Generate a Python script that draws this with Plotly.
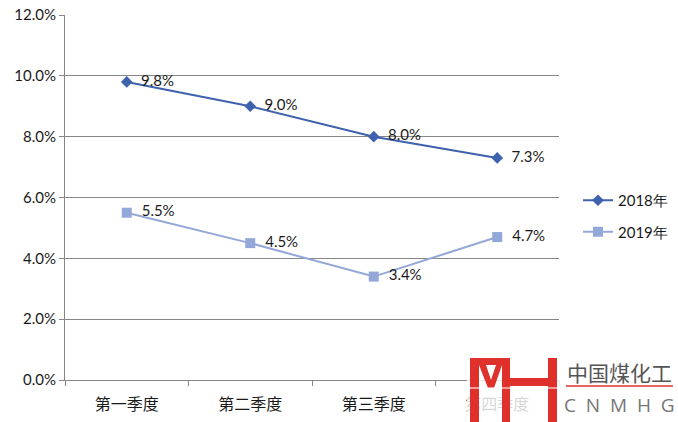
import plotly.graph_objects as go

categories = ["第一季度", "第二季度", "第三季度", "第四季度"]
series_2018 = [9.8, 9.0, 8.0, 7.3]
series_2019 = [5.5, 4.5, 3.4, 4.7]
series_names = ["2018年", "2019年"]
y_ticks = [0, 2, 4, 6, 8, 10, 12]
y_tick_labels = ["0.0%", "2.0%", "4.0%", "6.0%", "8.0%", "10.0%", "12.0%"]

W, H = 678, 422
L, R, T, B = 65, 119, 15, 42
PW, PH = W - L - R, H - T - B

def px(x):
    return (x - L) / PW

def py(y):
    return (H - B - y) / PH

num_font = "Lato, 'Open Sans', sans-serif"
cjk_font = "'Noto Sans CJK SC', sans-serif"
pad = "\u00a0\u00a0"

fig = go.Figure()
fig.add_trace(go.Scatter(
    x=categories, y=series_2018, name=series_names[0], legendgroup="g1",
    mode="lines+markers+text",
    line=dict(color="#3E62AD", width=2),
    marker=dict(symbol="diamond", size=9, color="#3E62AD"),
    text=[f"{pad}{v:.1f}%" for v in series_2018], textposition="middle right",
    textfont=dict(family=num_font, size=15, color="#1a1a1a"),
))
fig.add_trace(go.Scatter(
    x=categories, y=series_2019, name=series_names[1], legendgroup="g2",
    mode="lines+markers+text",
    line=dict(color="#93A7D8", width=2),
    marker=dict(symbol="square", size=10, color="#93A7D8"),
    text=[f"{pad}{v:.1f}%" for v in series_2019], textposition="middle right",
    textfont=dict(family=num_font, size=15, color="#1a1a1a"),
))

shapes = []
shapes.append(dict(type="rect", xref="paper", yref="paper",
                   x0=px(467), x1=px(678), y0=py(354), y1=py(422),
                   fillcolor="rgba(255,255,255,0.82)", line=dict(width=0), layer="above"))
red = "#E0302B"
def rect(x0, y0, x1, y1):
    shapes.append(dict(type="rect", xref="paper", yref="paper",
                       x0=px(x0), x1=px(x1), y0=py(y0), y1=py(y1),
                       fillcolor=red, line=dict(width=0), layer="above"))
rect(470, 358, 479, 422)
rect(470, 358, 510, 365)
rect(502, 358, 510, 422)
rect(510, 378, 548, 386)
rect(548, 358, 557, 422)
pts = [(479, 365), (486, 365), (491, 380), (496, 365), (502, 365), (494, 388), (488, 388)]
path = "M " + " L ".join(f"{px(a)},{py(b)}" for a, b in pts) + " Z"
shapes.append(dict(type="path", xref="paper", yref="paper", path=path,
                   fillcolor=red, line=dict(width=0), layer="above"))
shapes.append(dict(type="line", xref="paper", yref="paper",
                   x0=px(468), x1=px(560), y0=py(388), y1=py(388),
                   line=dict(color="rgba(255,255,255,0.7)", width=1.5), layer="above"))
shapes.append(dict(type="line", xref="paper", yref="paper",
                   x0=px(566), x1=px(673), y0=py(386), y1=py(386),
                   line=dict(color=red, width=1.5), layer="above"))

annotations = [
    dict(text="中国煤化工", xref="paper", yref="paper", x=px(619), y=py(372),
         showarrow=False, font=dict(family=cjk_font, size=21, color="#555555"),
         xanchor="center", yanchor="middle"),
    dict(text="C  N  M  H  G", xref="paper", yref="paper", x=px(619), y=py(405),
         showarrow=False, font=dict(family="'Open Sans', sans-serif", size=19, color="#777777"),
         xanchor="center", yanchor="middle"),
]

fig.update_layout(
    width=W, height=H,
    margin=dict(l=L, r=R, t=T, b=B, autoexpand=False),
    paper_bgcolor="white", plot_bgcolor="white",
    showlegend=True,
    legend=dict(x=px(578), y=py(216), xanchor="left", yanchor="middle",
                font=dict(family=num_font, size=15, color="#1a1a1a"),
                itemwidth=30, tracegroupgap=9, bgcolor="rgba(0,0,0,0)"),
    shapes=shapes,
    annotations=annotations,
)
fig.update_xaxes(
    type="category", categoryorder="array", categoryarray=categories,
    showgrid=False, showline=True, linecolor="#878787", linewidth=1,
    ticks="outside", tickson="boundaries", ticklen=5, tickcolor="#878787",
    tickfont=dict(family=cjk_font, size=16, color="#1a1a1a"),
    ticklabelstandoff=10,
    range=[-0.5, 3.5], zeroline=False,
)
fig.update_yaxes(
    range=[0, 12], tickvals=y_ticks, ticktext=y_tick_labels,
    showgrid=True, gridcolor="#878787", gridwidth=1,
    showline=True, linecolor="#878787", linewidth=1,
    ticks="outside", ticklen=5, tickcolor="#878787",
    tickfont=dict(family=num_font, size=15, color="#1a1a1a"),
    zeroline=False,
)

fig.write_html("out.html", config={"displayModeBar": False},
               post_script="document.body.style.margin='0';document.body.style.overflow='hidden';")
